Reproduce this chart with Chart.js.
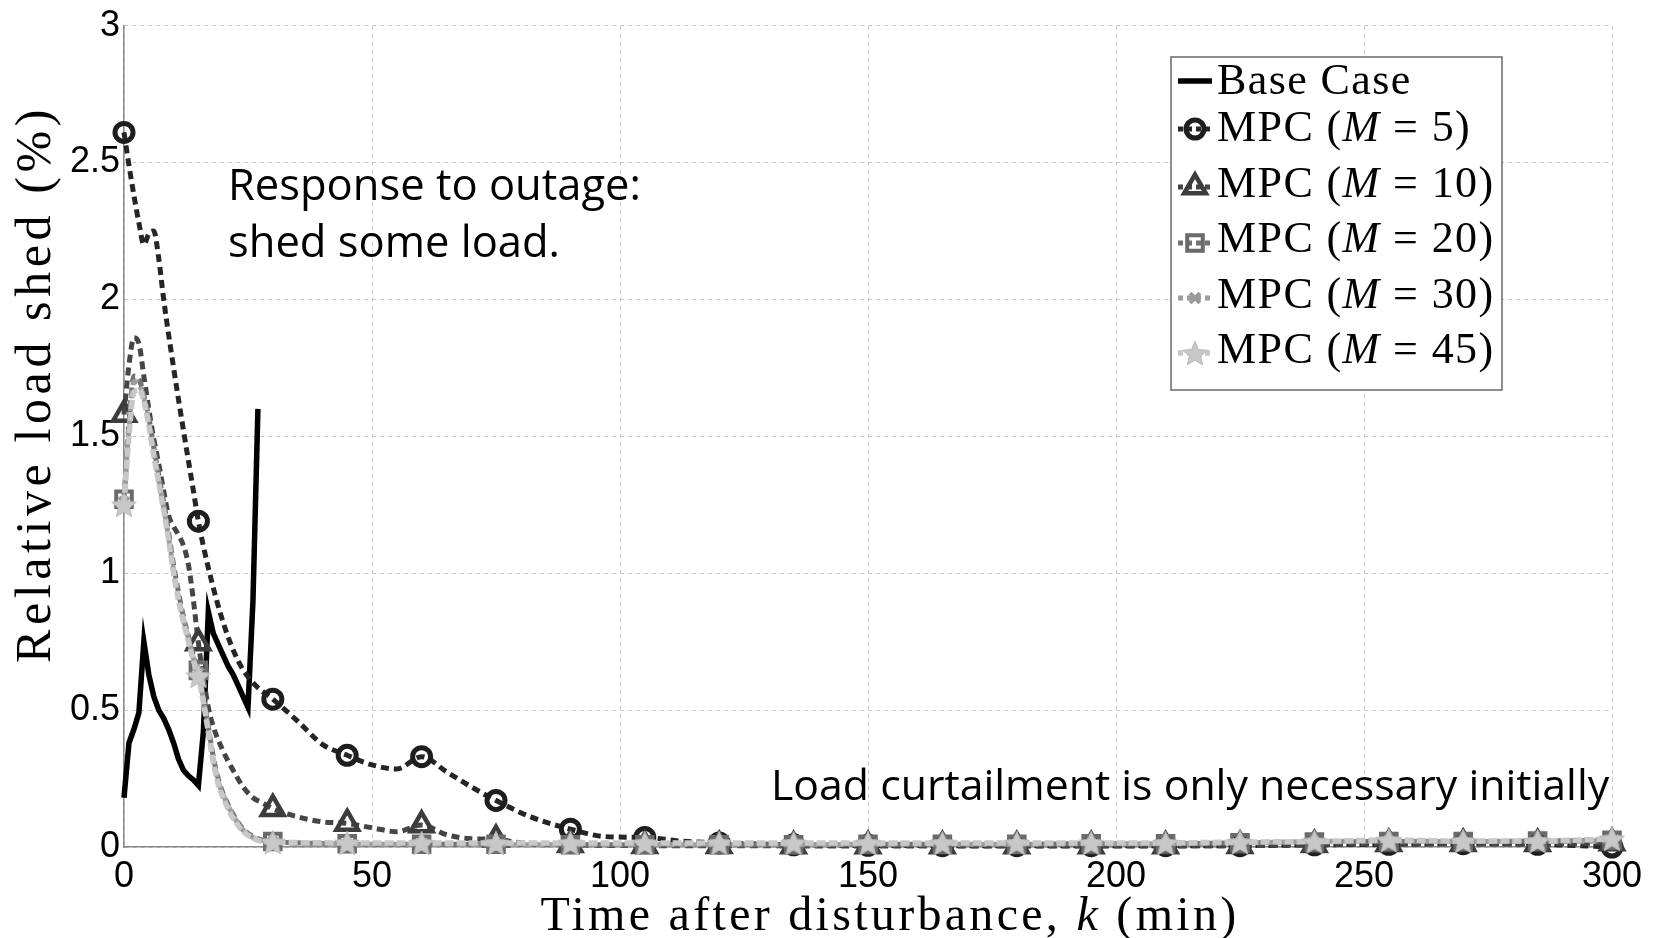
<!DOCTYPE html>
<html>
<head>
<meta charset="utf-8">
<script src="https://cdn.jsdelivr.net/npm/chart.js@4.4.1/dist/chart.umd.min.js"></script>
<style>
  html, body { margin: 0; padding: 0; background: #fff; }
  #wrap { width: 1661px; height: 938px; position: relative; }
</style>
</head>
<body>
<div id="wrap"><canvas id="chart"></canvas></div>
<script>
// --- data ---
const xTicks = [0, 50, 100, 150, 200, 250, 300];
const yTicks = [0, 0.5, 1, 1.5, 2, 2.5, 3];

const tBase = [0, 1, 2, 3, 4, 5, 6, 7, 8, 9, 10, 11, 12, 13, 14, 15, 16, 17, 18, 19, 20, 21, 22, 23, 24, 25, 26, 27];
const baseCase = [0.18, 0.38, 0.43, 0.49, 0.75, 0.63, 0.55, 0.50, 0.47, 0.43, 0.38, 0.32, 0.28, 0.26, 0.245, 0.225,
  0.42, 0.86, 0.78, 0.74, 0.70, 0.66, 0.63, 0.59, 0.55, 0.51, 0.90, 1.60];

const tM5 = [0, 1, 2, 3, 4, 5, 6, 7, 8, 10, 12, 14, 15, 17, 20, 23, 26, 30, 35, 40, 45, 50, 55, 60, 65, 70, 75,
  82, 90, 97, 105, 112, 120, 135, 150, 165, 180, 195, 210, 225, 240, 255, 270, 285, 300];
const mpc5 = [2.61, 2.49, 2.38, 2.28, 2.20, 2.24, 2.25, 2.15, 2.00, 1.75, 1.52, 1.30, 1.19, 1.02, 0.82, 0.68, 0.60,
  0.54, 0.46, 0.375, 0.335, 0.30, 0.285, 0.33, 0.275, 0.22, 0.17, 0.11, 0.065, 0.038, 0.035, 0.022, 0.015,
  0.008, 0.006, 0.005, 0.005, 0.005, 0.005, 0.005, 0.008, 0.01, 0.012, 0.01, 0.0];

const tM10 = [0, 1, 2, 3, 4, 5, 6, 7, 8, 9, 10, 11, 12, 13, 14, 15, 16, 17, 18, 20, 22, 24, 26, 28, 30,
  35, 40, 45, 50, 55, 60, 65, 70, 75, 80, 90, 105, 120, 135, 150, 165, 180, 195, 210, 225, 240, 255, 270, 285, 300];
const mpc10 = [1.58, 1.76, 1.86, 1.84, 1.72, 1.60, 1.49, 1.40, 1.30, 1.21, 1.17, 1.14, 1.10, 1.03, 0.90, 0.745,
  0.62, 0.51, 0.44, 0.35, 0.28, 0.22, 0.18, 0.16, 0.14, 0.11, 0.092, 0.086, 0.07, 0.056, 0.08, 0.045, 0.03,
  0.028, 0.015, 0.008, 0.005, 0.005, 0.004, 0.004, 0.004, 0.004, 0.004, 0.004, 0.005, 0.008, 0.012, 0.012, 0.012, 0.015];

// M = 20, 30, 45 share the same sample times
const tLight = [0, 1, 2, 3, 4, 5, 6, 7, 8, 9, 10, 11, 12, 13, 14, 15, 16, 17, 18, 19, 20, 22, 24, 26, 28, 30,
  45, 60, 75, 90, 105, 120, 135, 150, 165, 180, 195, 210, 225, 240, 255, 270, 285, 300];
const mpc20 = [1.27, 1.55, 1.72, 1.71, 1.65, 1.57, 1.46, 1.36, 1.26, 1.15, 1.03, 0.93, 0.84, 0.77, 0.70, 0.645,
  0.55, 0.44, 0.33, 0.25, 0.195, 0.12, 0.066, 0.038, 0.025, 0.02,
  0.012, 0.01, 0.01, 0.008, 0.008, 0.008, 0.008, 0.01, 0.01, 0.01, 0.012, 0.012, 0.015, 0.018, 0.02, 0.02, 0.022, 0.025];
const mpc30 = [1.26, 1.53, 1.70, 1.69, 1.64, 1.55, 1.44, 1.34, 1.24, 1.13, 1.01, 0.91, 0.83, 0.76, 0.69, 0.635,
  0.54, 0.43, 0.32, 0.24, 0.19, 0.115, 0.062, 0.035, 0.022, 0.018,
  0.01, 0.01, 0.008, 0.008, 0.008, 0.008, 0.008, 0.01, 0.01, 0.01, 0.012, 0.012, 0.015, 0.02, 0.022, 0.02, 0.02, 0.022];
const mpc45 = [1.25, 1.50, 1.66, 1.67, 1.63, 1.54, 1.43, 1.33, 1.23, 1.12, 1.00, 0.90, 0.82, 0.75, 0.68, 0.625,
  0.53, 0.42, 0.31, 0.23, 0.18, 0.105, 0.058, 0.032, 0.02, 0.018,
  0.015, 0.015, 0.015, 0.015, 0.015, 0.015, 0.015, 0.015, 0.015, 0.015, 0.015, 0.015, 0.018, 0.02, 0.025, 0.022, 0.022, 0.03];

const horizons = [5, 10, 20, 30, 45];
const xTitle = [['Time after disturbance, ', false], ['k', true], [' (min)', false]];
const yTitle = 'Relative load shed (%)';
const note1 = ['Response to outage:', 'shed some load.'];
const note2 = 'Load curtailment is only necessary initially';

// --- helpers ---
function pts(xs, ys) { return xs.map((x, i) => ({ x: x, y: ys[i] })); }

function makeStar(r, fill, stroke) {
  const c = document.createElement('canvas');
  const s = Math.ceil(2 * r + 4);
  c.width = c.height = s;
  const g = c.getContext('2d');
  g.translate(s / 2, s / 2 + r * 0.1);
  g.beginPath();
  for (let k = 0; k < 10; k++) {
    const rr = k % 2 ? r * 0.45 : r;
    const a = -Math.PI / 2 + k * Math.PI / 5;
    g.lineTo(rr * Math.cos(a), rr * Math.sin(a));
  }
  g.closePath();
  g.fillStyle = fill; g.fill();
  g.strokeStyle = stroke; g.lineWidth = 1; g.stroke();
  return c;
}
const star = makeStar(13, '#c8c8c8', '#b8b8b8');

function markerAt15(r) {
  return c => (c.raw && c.raw.x % 15 === 0 ? r : 0);
}

function richText(ctx, parts, x, y, size, align, spacing) {
  ctx.letterSpacing = (spacing || 0) + 'px';
  let w = 0;
  parts.forEach(p => {
    ctx.font = (p[1] ? 'italic ' : '') + size + 'px "Liberation Serif"';
    w += ctx.measureText(p[0]).width;
  });
  let cx = align === 'center' ? x - w / 2 : x;
  ctx.textAlign = 'left';
  parts.forEach(p => {
    ctx.font = (p[1] ? 'italic ' : '') + size + 'px "Liberation Serif"';
    ctx.fillText(p[0], cx, y);
    cx += ctx.measureText(p[0]).width;
  });
  ctx.letterSpacing = '0px';
}

const dashed = [8, 5];

const datasets = [
  { label: 'Base Case', data: pts(tBase, baseCase), borderColor: '#000', borderWidth: 5.5,
    pointRadius: 0, tension: 0, order: 6 },
  { label: 'MPC (M = 5)', data: pts(tM5, mpc5), borderColor: '#252525', borderWidth: 5, borderDash: dashed,
    pointStyle: 'circle', pointRadius: markerAt15(9), pointBorderWidth: 5, pointBorderColor: '#1e1e1e',
    pointBackgroundColor: 'rgba(0,0,0,0)', cubicInterpolationMode: 'monotone', order: 5 },
  { label: 'MPC (M = 10)', data: pts(tM10, mpc10), borderColor: '#454545', borderWidth: 5, borderDash: dashed,
    pointStyle: 'triangle', pointRadius: markerAt15(12.5), pointBorderWidth: 4.5, pointBorderColor: '#3c3c3c',
    pointBackgroundColor: 'rgba(0,0,0,0)', cubicInterpolationMode: 'monotone', order: 4 },
  { label: 'MPC (M = 20)', data: pts(tLight, mpc20), borderColor: '#727272', borderWidth: 5, borderDash: dashed,
    pointStyle: 'rect', pointRadius: markerAt15(11), pointBorderWidth: 4, pointBorderColor: '#6a6a6a',
    pointBackgroundColor: 'rgba(0,0,0,0)', cubicInterpolationMode: 'monotone', order: 3 },
  { label: 'MPC (M = 30)', data: pts(tLight, mpc30), borderColor: '#9c9c9c', borderWidth: 5, borderDash: dashed,
    pointStyle: 'crossRot', pointRadius: markerAt15(7), pointBorderWidth: 4, pointBorderColor: '#999',
    pointBackgroundColor: '#999', cubicInterpolationMode: 'monotone', order: 2 },
  { label: 'MPC (M = 45)', data: pts(tLight, mpc45), borderColor: '#c8c8c8', borderWidth: 5.5, borderDash: [9, 3],
    pointStyle: star, pointRadius: markerAt15(13), pointBorderWidth: 0, pointBorderColor: '#c8c8c8',
    pointBackgroundColor: '#c8c8c8', cubicInterpolationMode: 'monotone', order: 1 }
];
datasets.forEach(d => { d.clip = false; d.fill = false; });

// legend box + titles + notes drawn on top of the plot
const decorations = {
  id: 'decorations',
  afterDraw(chart) {
    const ctx = chart.ctx;
    ctx.save();
    ctx.fillStyle = '#000';
    ctx.textBaseline = 'alphabetic';

    // axis titles
    richText(ctx, xTitle, 890, 930, 48, 'center', 3.3);
    ctx.save();
    ctx.translate(50, 384);
    ctx.rotate(-Math.PI / 2);
    richText(ctx, [[yTitle, false]], 0, 0, 50, 'center', 4.6);
    ctx.restore();

    // notes
    ctx.textAlign = 'left';
    ctx.font = '43.5px "Open Sans"';
    ctx.fillText(note1[0], 228, 200);
    ctx.fillText(note1[1], 228, 257);
    ctx.font = '42.8px "Open Sans"';
    ctx.fillText(note2, 771, 800);

    // legend
    const bx = 1171, by = 57, bw = 331, bh = 333;
    ctx.fillStyle = '#fff';
    ctx.fillRect(bx, by, bw, bh);
    ctx.strokeStyle = '#6a6a6a';
    ctx.lineWidth = 1.5;
    ctx.strokeRect(bx, by, bw, bh);
    const rowY = [81, 129, 187, 243, 298, 353];
    const baseY = [94, 141, 197, 252, 308, 363];
    chart.data.datasets.forEach((ds, i) => {
      const y = rowY[i];
      ctx.save();
      ctx.strokeStyle = ds.borderColor;
      ctx.lineWidth = ds.borderWidth;
      ctx.setLineDash(i === 0 ? [] : [5, 4]);
      ctx.beginPath();
      ctx.moveTo(1178, y);
      ctx.lineTo(1212, y);
      ctx.stroke();
      ctx.setLineDash([]);
      if (i > 0) {
        ctx.strokeStyle = ds.pointBorderColor;
        ctx.fillStyle = ds.pointBackgroundColor;
        ctx.lineWidth = ds.pointBorderWidth;
        Chart.helpers.drawPoint(ctx, {
          pointStyle: ds.pointStyle, radius: ds.pointRadius({ raw: { x: 0 } }),
          borderWidth: ds.pointBorderWidth, rotation: 0
        }, 1195, y);
      }
      ctx.restore();
      ctx.fillStyle = '#000';
      const parts = i === 0 ? [['Base Case', false]]
        : [['MPC (', false], ['M', true], [' = ' + horizons[i - 1] + ')', false]];
      richText(ctx, parts, 1217, baseY[i], 44, 'left', 1.4);
    });
    ctx.restore();
  }
};

const tickFont = { family: '"Liberation Sans", Arial, sans-serif', size: 36 };

new Chart(document.getElementById('chart'), {
  type: 'line',
  data: { datasets: datasets },
  options: {
    responsive: true,
    maintainAspectRatio: false,
    animation: false,
    layout: { padding: { top: 21, right: 49, left: 0, bottom: 0 } },
    plugins: { legend: { display: false }, tooltip: { enabled: false } },
    scales: {
      x: {
        type: 'linear', min: 0, max: 300,
        afterBuildTicks: s => { s.ticks = xTicks.map(v => ({ value: v })); },
        afterFit: s => { s.height = 91; },
        ticks: { font: tickFont, color: '#000', padding: 8, maxRotation: 0, autoSkip: false,
          callback: v => String(v) },
        grid: { color: '#c6c6c6', lineWidth: 1, drawTicks: false },
        border: { display: true, color: '#8a8a8a', width: 1.5, dash: [4, 4] }
      },
      y: {
        type: 'linear', min: 0, max: 3,
        afterBuildTicks: s => { s.ticks = yTicks.map(v => ({ value: v })); },
        afterFit: s => { s.width = 124; },
        ticks: { font: tickFont, color: '#000', padding: 4, callback: v => String(v) },
        grid: { color: '#c6c6c6', lineWidth: 1, drawTicks: false },
        border: { display: true, color: '#8a8a8a', width: 1.5, dash: [4, 4] }
      }
    }
  },
  plugins: [decorations]
});
</script>
</body>
</html>
